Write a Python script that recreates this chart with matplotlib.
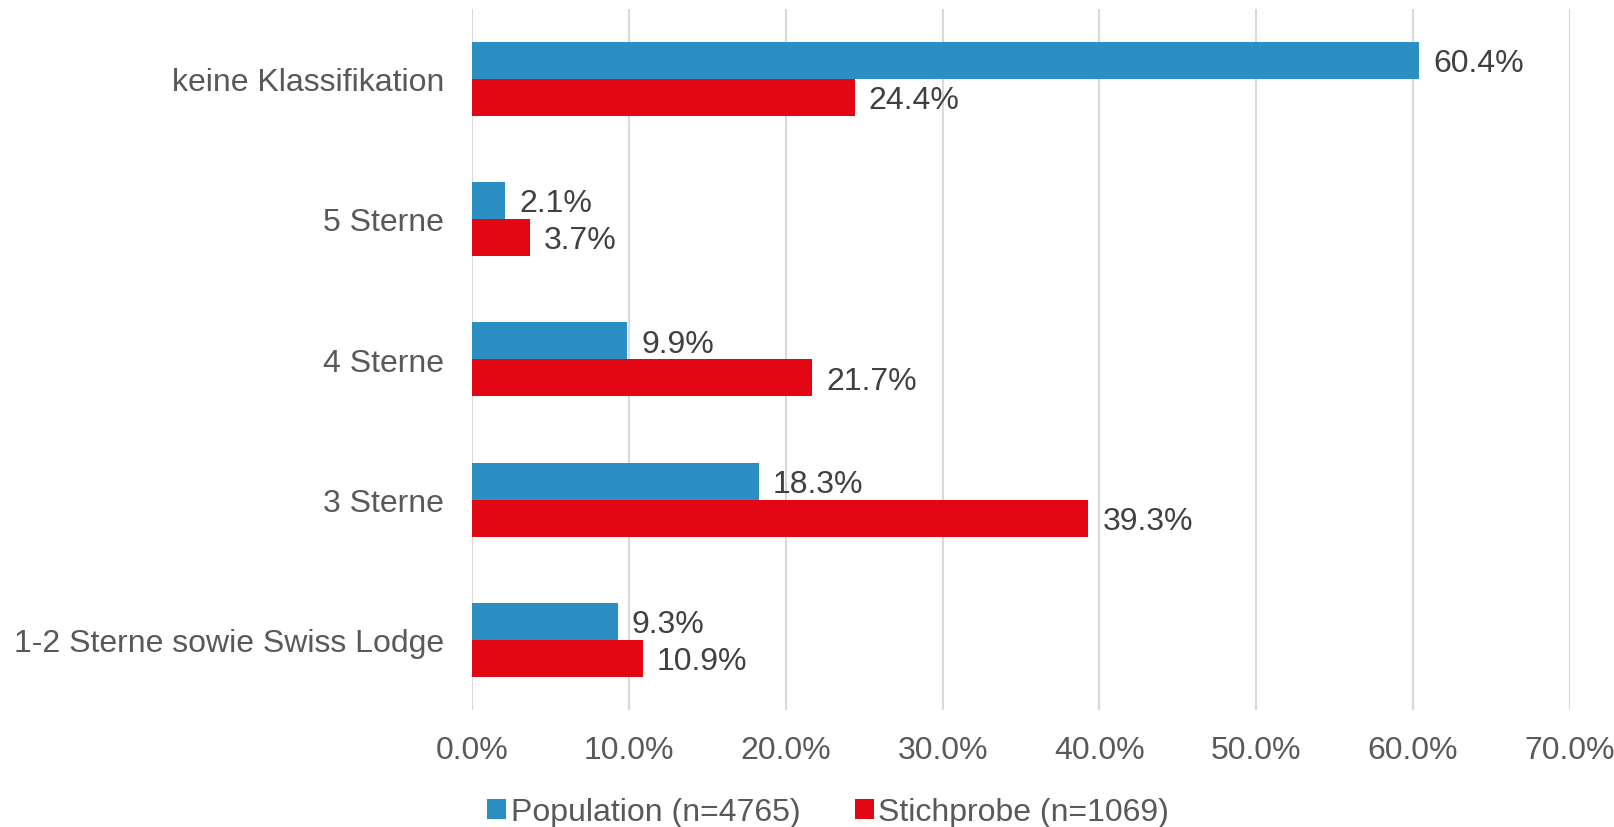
import numpy as np
import matplotlib.pyplot as plt

plt.rcParams['font.family'] = ['Liberation Sans', 'DejaVu Sans']

categories = ['1-2 Sterne sowie Swiss Lodge', '3 Sterne', '4 Sterne', '5 Sterne', 'keine Klassifikation']
population = [9.3, 18.3, 9.9, 2.1, 60.4]
stichprobe = [10.9, 39.3, 21.7, 3.7, 24.4]
series_names = ['Population (n=4765)', 'Stichprobe (n=1069)']

blue = '#2B8FC4'
red = '#E30613'

fig = plt.figure(figsize=(16.14, 8.28), dpi=100)
ax = fig.add_axes([0.2925, 0.1413, 0.6802, 0.8472])

y = np.arange(len(categories))
h = 0.264
b1 = ax.barh(y + h / 2, population, height=h, color=blue, label=series_names[0], zorder=3)
b2 = ax.barh(y - h / 2, stichprobe, height=h, color=red, label=series_names[1], zorder=3)

for bars in (b1, b2):
    for rect in bars:
        w = rect.get_width()
        ax.annotate(f'{w:.1f}%', (w, rect.get_y() + rect.get_height() / 2),
                    xytext=(10, -2), textcoords='offset points', va='center', ha='left',
                    fontsize=23, color='#404040')

ax.set_xlim(0, 70)
ax.set_ylim(-0.5, len(categories) - 0.5)
ax.set_xticks(np.arange(0, 71, 10))
ax.set_xticklabels([f'{v:.1f}%' for v in np.arange(0, 71, 10)])
ax.set_yticks(y)
ax.set_yticklabels(categories)
ax.tick_params(axis='both', length=0, labelsize=23, labelcolor='#595959')
ax.tick_params(axis='x', pad=18)
ax.tick_params(axis='y', pad=20)
ax.grid(axis='x', color='#D9D9D9', linewidth=1.5, zorder=0)
for s in ax.spines.values():
    s.set_visible(False)

leg = fig.legend(handles=[b1, b2], loc='center', bbox_to_anchor=(0.513, 0.018), ncol=2,
                 frameon=False, fontsize=23, handlelength=0.6, handleheight=0.6,
                 handletextpad=0.15, columnspacing=1.7)
for t in leg.get_texts():
    t.set_color('#595959')

fig.savefig('out.png', dpi=100)
